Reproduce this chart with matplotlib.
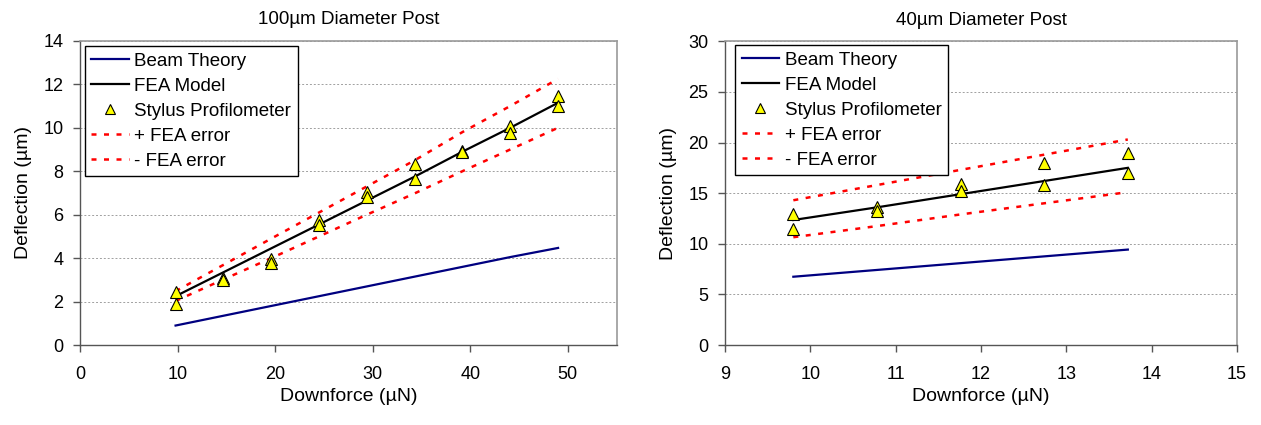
import matplotlib
matplotlib.use("Agg")
import matplotlib.pyplot as plt

plt.rcParams["font.family"] = ["Liberation Sans", "DejaVu Sans"]

# ----------------------------
# 100um post data
# ----------------------------
force_100 = [9.8, 14.7, 19.6, 24.5, 29.4, 34.3, 39.2, 44.1, 49.0]
beam_100 = [0.9, 1.35, 1.8, 2.25, 2.7, 3.15, 3.6, 4.05, 4.47]
fea_100 = [2.25, 3.35, 4.45, 5.55, 6.65, 7.75, 8.9, 10.0, 11.15]
fea_hi_100 = [2.48, 3.69, 4.9, 6.1, 7.3, 8.5, 9.8, 11.0, 12.25]
fea_lo_100 = [2.03, 3.02, 4.0, 5.0, 6.0, 6.98, 8.0, 9.0, 10.0]
stylus_x_100 = [9.8, 9.8, 14.7, 14.7, 19.6, 19.6, 24.5, 24.5, 29.4, 29.4,
                34.3, 34.3, 39.2, 39.2, 44.1, 44.1, 49.0, 49.0]
stylus_y_100 = [2.44, 1.91, 3.1, 3.0, 3.95, 3.77, 5.75, 5.53, 7.04, 6.82,
                8.35, 7.62, 8.95, 8.88, 10.1, 9.76, 11.45, 11.02]

# ----------------------------
# 40um post data
# ----------------------------
force_40 = [9.8, 10.78, 11.76, 12.74, 13.72]
beam_40 = [6.75, 7.42, 8.09, 8.76, 9.43]
fea_40 = [12.35, 13.6, 14.9, 16.2, 17.5]
fea_hi_40 = [14.3, 15.8, 17.3, 18.8, 20.3]
fea_lo_40 = [10.65, 11.75, 12.9, 14.0, 15.1]
stylus_x_40 = [9.8, 9.8, 10.78, 10.78, 11.76, 11.76, 12.74, 12.74, 13.72, 13.72]
stylus_y_40 = [12.98, 11.43, 13.65, 13.2, 15.9, 15.2, 18.0, 15.8, 18.95, 17.0]

SPINE_DARK = "#555555"
SPINE_LIGHT = "#9a9a9a"


def draw_panel(ax, title, x, beam, fea, hi, lo, sx, sy, xlim, xticks, ylim, yticks):
    ax.plot(x, beam, color="#000080", lw=1.6, label="Beam Theory")
    ax.plot(x, fea, color="black", lw=1.6, label="FEA Model")
    ax.plot(sx, sy, ls="none", marker="^", ms=9, mfc="#ffff00", mec="black",
            mew=0.8, label="Stylus Profilometer", zorder=5)
    ax.plot(x, hi, color="#ff0000", lw=1.8, ls=(0, (2, 3)), label="+ FEA error")
    ax.plot(x, lo, color="#ff0000", lw=1.8, ls=(0, (2, 3)), label="- FEA error")

    ax.set_xlim(*xlim)
    ax.set_ylim(*ylim)
    ax.set_xticks(xticks)
    ax.set_yticks(yticks)
    ax.grid(True, axis="y", color="#a0a0a0", ls=(0, (2, 2)), lw=0.7)
    ax.set_axisbelow(True)

    for s in ("left", "bottom"):
        ax.spines[s].set_color(SPINE_DARK)
        ax.spines[s].set_linewidth(1.0)
    for s in ("top", "right"):
        ax.spines[s].set_color(SPINE_LIGHT)
        ax.spines[s].set_linewidth(1.2)

    ax.tick_params(direction="out", length=5, width=1.0, color=SPINE_DARK,
                   labelsize=13)
    ax.tick_params(axis="x", pad=10)
    ax.tick_params(axis="y", pad=7)
    ax.set_title(title, fontsize=13.5, pad=12)
    ax.set_xlabel("Downforce (µN)", fontsize=14, labelpad=4)
    ax.set_ylabel("Deflection (µm)", fontsize=14, labelpad=8)


fig = plt.figure(figsize=(12.61, 4.25), dpi=100)
ax1 = fig.add_axes([0.0634, 0.188, 0.4256, 0.716])
ax2 = fig.add_axes([0.575, 0.188, 0.406, 0.715])

draw_panel(ax1, "100µm Diameter Post", force_100, beam_100, fea_100,
           fea_hi_100, fea_lo_100, stylus_x_100, stylus_y_100,
           (0, 55), range(0, 51, 10), (0, 14), range(0, 15, 2))
draw_panel(ax2, "40µm Diameter Post", force_40, beam_40, fea_40,
           fea_hi_40, fea_lo_40, stylus_x_40, stylus_y_40,
           (9, 15), range(9, 16), (0, 30), range(0, 31, 5))

for ax, anchor in ((ax1, (0.009, 0.983)), (ax2, (0.0195, 0.987))):
    leg = ax.legend(loc="upper left", bbox_to_anchor=anchor, borderaxespad=0,
                    fontsize=13.5, frameon=True, fancybox=False, framealpha=1,
                    edgecolor="black", handlelength=2.0, handletextpad=0.3,
                    labelspacing=0.42, borderpad=0.35, markerscale=0.75)
    leg.get_frame().set_linewidth(1.0)

fig.savefig("out.png", dpi=100)
